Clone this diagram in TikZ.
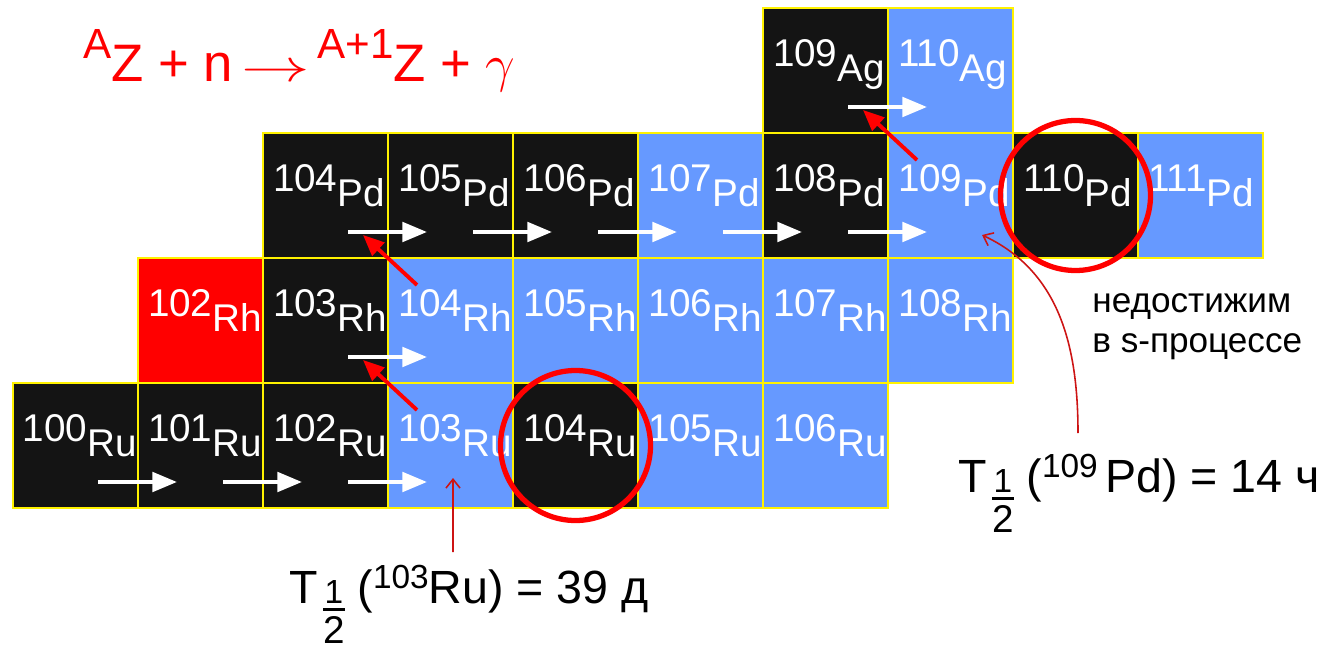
\RequirePackage{fix-cm}
\documentclass[tikz,border=0pt]{standalone}
\usepackage{fontspec}
\setmainfont{Liberation Sans}
\usetikzlibrary{arrows.meta}

\definecolor{nucblue}{RGB}{102,153,255}
\definecolor{notered}{RGB}{205,20,20}

\newcommand{\iso}[2]{\raisebox{8.5pt}{#1}#2}
\newcommand{\upnum}[1]{\raisebox{8.5pt}{\fontsize{19}{19}\selectfont #1}}
\newcommand{\halfsub}{\hspace{3pt}{\setlength{\arrayrulewidth}{1.5pt}%
    \renewcommand{\arraystretch}{0}%
    \begin{tabular}[t]{@{}c@{}}
        \fontsize{19}{19}\selectfont 1\rule[-2.8pt]{0pt}{2.8pt}\\
        \hline
        \rule{0pt}{18.5pt}\fontsize{22}{22}\selectfont 2
    \end{tabular}}}

\begin{document}
\begin{tikzpicture}[
    x=1cm, y=1cm,
    every node/.style={font=\fontsize{22}{24}\selectfont},
    cell/.style={
        draw=yellow,
        line width=1.5pt,
        minimum width=2.5cm,
        minimum height=2.5cm,
        inner xsep=0.2cm,
        inner ysep=0pt,
        text width=2.1cm,
        align=left,
        text height=22pt,
        text depth=9pt,
        text=white
    },
    stable/.style={cell, fill=black!92},
    unstable/.style={cell, fill=nucblue},
    redcell/.style={cell, fill=red},
    ring/.style={circle, draw=red, line width=3pt, minimum size=3cm},
    narr/.style={-{Triangle[length=14pt, width=11pt]}, white, line width=2.3pt},
    barr/.style={-{Triangle[length=12pt, width=10pt]}, red, line width=2.2pt},
    tarr/.style={-{Straight Barb[length=5pt, width=8pt]}, notered, line width=0.9pt},
    halflife/.style={anchor=base west, inner sep=0pt, font=\fontsize{26.5}{30}\selectfont}
]
    \useasboundingbox (0,0) rectangle (26.84,12.98);

    % Ru
    \node[stable] (ru100) at (1.51,4.07) {\iso{100}{Ru}};
    \node[stable] (ru101) at (4.01,4.07) {\iso{101}{Ru}};
    \node[stable] (ru102) at (6.51,4.07) {\iso{102}{Ru}};
    \node[unstable] (ru103) at (9.01,4.07) {\iso{103}{Ru}};
    \node[stable] (ru104) at (11.51,4.07) {\iso{104}{Ru}};
    \node[unstable] (ru105) at (14.01,4.07) {\iso{105}{Ru}};
    \node[unstable] (ru106) at (16.51,4.07) {\iso{106}{Ru}};

    % Rh
    \node[redcell] (rh102) at (4.01,6.57) {\iso{102}{Rh}};
    \node[stable] (rh103) at (6.51,6.57) {\iso{103}{Rh}};
    \node[unstable] (rh104) at (9.01,6.57) {\iso{104}{Rh}};
    \node[unstable] (rh105) at (11.51,6.57) {\iso{105}{Rh}};
    \node[unstable] (rh106) at (14.01,6.57) {\iso{106}{Rh}};
    \node[unstable] (rh107) at (16.51,6.57) {\iso{107}{Rh}};
    \node[unstable] (rh108) at (19.01,6.57) {\iso{108}{Rh}};

    % Pd
    \node[stable] (pd104) at (6.51,9.07) {\iso{104}{Pd}};
    \node[stable] (pd105) at (9.01,9.07) {\iso{105}{Pd}};
    \node[stable] (pd106) at (11.51,9.07) {\iso{106}{Pd}};
    \node[unstable] (pd107) at (14.01,9.07) {\iso{107}{Pd}};
    \node[stable] (pd108) at (16.51,9.07) {\iso{108}{Pd}};
    \node[unstable] (pd109) at (19.01,9.07) {\iso{109}{Pd}};
    \node[stable] (pd110) at (21.51,9.07) {\iso{110}{Pd}};
    \node[unstable] (pd111) at (24.01,9.07) {\iso{111}{Pd}};

    % Ag
    \node[stable] (ag109) at (16.51,11.57) {\iso{109}{Ag}};
    \node[unstable] (ag110) at (19.01,11.57) {\iso{110}{Ag}};

    % neutron captures
    \draw[narr] ([shift={(0.45,-0.73)}]ru100.center) -- ([shift={(-0.47,-0.73)}]ru101.center);
    \draw[narr] ([shift={(0.45,-0.73)}]ru101.center) -- ([shift={(-0.47,-0.73)}]ru102.center);
    \draw[narr] ([shift={(0.45,-0.73)}]ru102.center) -- ([shift={(-0.47,-0.73)}]ru103.center);
    \draw[narr] ([shift={(0.45,-0.73)}]rh103.center) -- ([shift={(-0.47,-0.73)}]rh104.center);
    \draw[narr] ([shift={(0.45,-0.73)}]pd104.center) -- ([shift={(-0.47,-0.73)}]pd105.center);
    \draw[narr] ([shift={(0.45,-0.73)}]pd105.center) -- ([shift={(-0.47,-0.73)}]pd106.center);
    \draw[narr] ([shift={(0.45,-0.73)}]pd106.center) -- ([shift={(-0.47,-0.73)}]pd107.center);
    \draw[narr] ([shift={(0.45,-0.73)}]pd107.center) -- ([shift={(-0.47,-0.73)}]pd108.center);
    \draw[narr] ([shift={(0.45,-0.73)}]pd108.center) -- ([shift={(-0.47,-0.73)}]pd109.center);
    \draw[narr] ([shift={(0.45,-0.73)}]ag109.center) -- ([shift={(-0.47,-0.73)}]ag110.center);

    % circles
    \node[ring] (ringru) at (ru104.center) {};
    \node[ring] (ringpd) at (pd110.center) {};

    % beta decays
    \draw[barr] ([shift={(-0.67,0.71)}]ru103.center) -- ([shift={(0.75,-0.79)}]rh103.center);
    \draw[barr] ([shift={(-0.67,0.71)}]rh104.center) -- ([shift={(0.75,-0.79)}]pd104.center);
    \draw[barr] ([shift={(-0.67,0.71)}]pd109.center) -- ([shift={(0.75,-0.79)}]ag109.center);

    % texts
    \node[anchor=base west, inner sep=0pt, text=red, font=\fontsize{30}{34}\selectfont]
        (reaction) at (1.66,11.34)
        {\raisebox{13.5pt}{\fontsize{24}{24}\selectfont A}Z + n\,{\fontsize{26}{26}\selectfont\scalebox{1.5}[1]{$\rightarrow$}}\hspace{4pt}%
         \raisebox{13.5pt}{\fontsize{24}{24}\selectfont A+1}Z + $\gamma$};

    \node[anchor=base west, inner sep=0pt, align=left, font=\fontsize{20}{22.5}\selectfont]
        (unreach) at (21.84,5.94) {недостижим\\в s-процессе};

    \node[halflife] (hlru) at (5.78,0.92) {T\halfsub\ (\upnum{103}Ru) = 39 д};
    \node[halflife] (hlpd) at (19.16,3.14) {T\halfsub\ (\upnum{109}\,Pd) = 14 ч};

    \coordinate (tailru) at (9.06,1.94);
    \coordinate (tailpd) at (21.56,4.32);

    \draw[tarr] (tailru) -- ([shift={(0.05,-0.65)}]ru103.center);
    \draw[tarr] (tailpd) to[out=90, in=-25] ([shift={(0.63,-0.79)}]pd109.center);

\end{tikzpicture}
\end{document}
